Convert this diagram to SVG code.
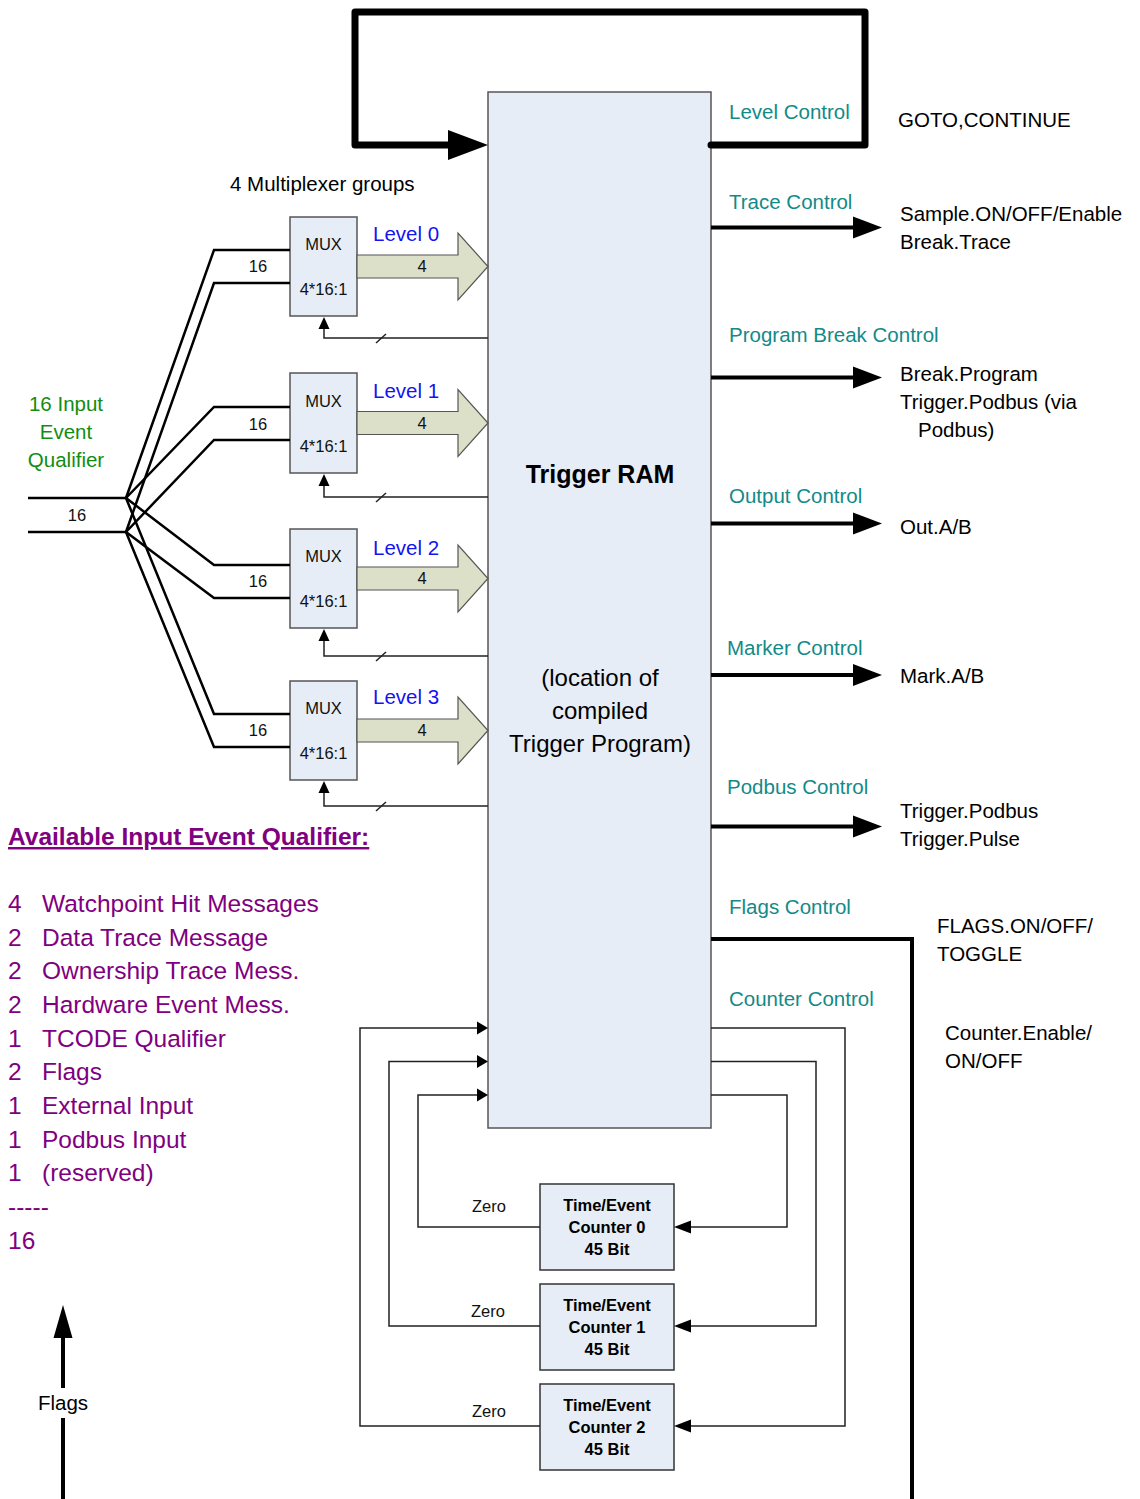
<svg xmlns="http://www.w3.org/2000/svg" width="1140" height="1499" viewBox="0 0 1140 1499">
<style>
text{font-family:"Liberation Sans",Arial,sans-serif;}
.box{fill:#e6edf7;stroke:#555;stroke-width:1.5;}
.cbox{fill:#e6edf7;stroke:#333;stroke-width:1.5;}
.thin{fill:none;stroke:#222;stroke-width:1.5;}
.wire{fill:none;stroke:#000;stroke-width:2.5;}
.thick{fill:none;stroke:#000;stroke-width:4;}
.loop{fill:none;stroke:#000;stroke-width:7;stroke-linejoin:round;stroke-linecap:round;}
.lvl{fill:#dde0c8;stroke:#555;stroke-width:1.2;}
.teal{fill:#128a88;font-size:20.5px;}
.blk{fill:#000;font-size:20.5px;}
.blue{fill:#1414f0;font-size:20.5px;}
.sm{fill:#111;font-size:16.5px;}
.cnt{fill:#000;font-size:16.5px;font-weight:bold;text-anchor:middle;}
.pur{fill:#800080;font-size:24.5px;}
.grn{fill:#128c12;font-size:20.5px;text-anchor:middle;}
.mid{text-anchor:middle;}
</style>
<defs>
<marker id="ah" markerWidth="8" markerHeight="8" refX="8" refY="4" orient="auto" markerUnits="userSpaceOnUse">
<path d="M0,0 L8,4 L0,8 Z" fill="#000"/>
</marker>
</defs>

<g id="trigger-ram">
<rect class="box" x="488" y="92" width="223" height="1036"/>
<text x="600" y="483" class="mid" style="font-size:25px;font-weight:bold">Trigger RAM</text>
<text x="600" y="686" class="mid" style="font-size:24px">(location of</text>
<text x="600" y="719" class="mid" style="font-size:24px">compiled</text>
<text x="600" y="752" class="mid" style="font-size:24px">Trigger Program)</text>
</g>

<g id="mux0">
<rect class="box" x="290" y="217" width="67" height="99"/>
<text x="323.5" y="250" class="sm mid">MUX</text>
<text x="323.5" y="295" class="sm mid">4*16:1</text>
</g>
<g id="mux1">
<rect class="box" x="290" y="373" width="67" height="100"/>
<text x="323.5" y="407" class="sm mid">MUX</text>
<text x="323.5" y="452" class="sm mid">4*16:1</text>
</g>
<g id="mux2">
<rect class="box" x="290" y="529" width="67" height="99"/>
<text x="323.5" y="562" class="sm mid">MUX</text>
<text x="323.5" y="607" class="sm mid">4*16:1</text>
</g>
<g id="mux3">
<rect class="box" x="290" y="681" width="67" height="99"/>
<text x="323.5" y="714" class="sm mid">MUX</text>
<text x="323.5" y="759" class="sm mid">4*16:1</text>
</g>

<g id="counter0">
<rect class="cbox" x="540" y="1184" width="134" height="86"/>
<text x="607" y="1211" class="cnt">Time/Event</text>
<text x="607" y="1233" class="cnt">Counter 0</text>
<text x="607" y="1255" class="cnt">45 Bit</text>
</g>
<g id="counter1">
<rect class="cbox" x="540" y="1284" width="134" height="86"/>
<text x="607" y="1311" class="cnt">Time/Event</text>
<text x="607" y="1333" class="cnt">Counter 1</text>
<text x="607" y="1355" class="cnt">45 Bit</text>
</g>
<g id="counter2">
<rect class="cbox" x="540" y="1384" width="134" height="86"/>
<text x="607" y="1411" class="cnt">Time/Event</text>
<text x="607" y="1433" class="cnt">Counter 2</text>
<text x="607" y="1455" class="cnt">45 Bit</text>
</g>

<g id="connectors">
<!-- top loop -->
<path class="loop" d="M711,145 L865,145 L865,12 L355,12 L355,145 L450,145"/>
<polygon points="448,130 488,145 448,160" fill="#000"/>

<!-- right control arrows -->
<line class="thick" x1="711" y1="227.5" x2="856" y2="227.5"/>
<polygon points="853,216.5 882,227.5 853,238.5" fill="#000"/>
<line class="thick" x1="711" y1="377.5" x2="856" y2="377.5"/>
<polygon points="853,366.5 882,377.5 853,388.5" fill="#000"/>
<line class="thick" x1="711" y1="523.5" x2="856" y2="523.5"/>
<polygon points="853,512.5 882,523.5 853,534.5" fill="#000"/>
<line class="thick" x1="711" y1="675" x2="856" y2="675"/>
<polygon points="853,664 882,675 853,686" fill="#000"/>
<line class="thick" x1="711" y1="826.5" x2="856" y2="826.5"/>
<polygon points="853,815.5 882,826.5 853,837.5" fill="#000"/>
<path class="thick" d="M711,939 L912,939 L912,1499"/>

<!-- input fan -->
<line class="wire" x1="28" y1="498" x2="126" y2="498"/>
<line class="wire" x1="28" y1="532" x2="126" y2="532"/>
<path class="wire" d="M126,498 L214,250 L290,250"/>
<path class="wire" d="M126,532 L214,283 L290,283"/>
<path class="wire" d="M126,498 L214,407 L290,407"/>
<path class="wire" d="M126,532 L214,440 L290,440"/>
<path class="wire" d="M126,498 L214,565 L290,565"/>
<path class="wire" d="M126,532 L214,598 L290,598"/>
<path class="wire" d="M126,498 L214,714 L290,714"/>
<path class="wire" d="M126,532 L214,747 L290,747"/>

<!-- level block arrows -->
<polygon class="lvl" points="357,255 458,255 458,233 488,266.5 458,300 458,278 357,278"/>
<polygon class="lvl" points="357,411.5 458,411.5 458,389.5 488,423 458,456.5 458,434.5 357,434.5"/>
<polygon class="lvl" points="357,567 458,567 458,545 488,578.5 458,612 458,590 357,590"/>
<polygon class="lvl" points="357,719 458,719 458,697 488,730.5 458,764 458,742 357,742"/>

<!-- feedback to MUX -->
<path class="thin" d="M488,338 L324,338 L324,329"/>
<polygon points="318.5,329 324,317 329.5,329" fill="#000"/>
<line class="thin" x1="376" y1="343" x2="386" y2="334"/>
<path class="thin" d="M488,497 L324,497 L324,486"/>
<polygon points="318.5,486 324,474 329.5,486" fill="#000"/>
<line class="thin" x1="376" y1="502" x2="386" y2="493"/>
<path class="thin" d="M488,656 L324,656 L324,641"/>
<polygon points="318.5,641 324,629 329.5,641" fill="#000"/>
<line class="thin" x1="376" y1="661" x2="386" y2="652"/>
<path class="thin" d="M488,806 L324,806 L324,793"/>
<polygon points="318.5,793 324,781 329.5,793" fill="#000"/>
<line class="thin" x1="376" y1="811" x2="386" y2="802"/>

<!-- counter control out -->
<path class="thin" d="M711,1028 L845,1028 L845,1426 L690,1426"/>
<polygon points="691,1419.5 674,1426 691,1432.5" fill="#000"/>
<path class="thin" d="M711,1061.5 L816,1061.5 L816,1326 L690,1326"/>
<polygon points="691,1319.5 674,1326 691,1332.5" fill="#000"/>
<path class="thin" d="M711,1095 L787,1095 L787,1227 L690,1227"/>
<polygon points="691,1220.5 674,1227 691,1233.5" fill="#000"/>

<!-- zero feedback -->
<path class="thin" d="M540,1426 L360,1426 L360,1028 L478,1028"/>
<polygon points="477,1021.5 488,1028 477,1034.5" fill="#000"/>
<path class="thin" d="M540,1326 L389,1326 L389,1061.5 L478,1061.5"/>
<polygon points="477,1055 488,1061.5 477,1068" fill="#000"/>
<path class="thin" d="M540,1227 L418,1227 L418,1095 L478,1095"/>
<polygon points="477,1088.5 488,1095 477,1101.5" fill="#000"/>

<!-- flags arrow -->
<line class="thick" x1="63" y1="1499" x2="63" y2="1418"/>
<line class="thick" x1="63" y1="1388" x2="63" y2="1335"/>
<polygon points="53.5,1338 63,1305 72.5,1338" fill="#000"/>
</g>

<g id="labels">
<text x="230" y="191" class="blk">4 Multiplexer groups</text>
<text x="373" y="241" class="blue">Level 0</text>
<text x="373" y="398" class="blue">Level 1</text>
<text x="373" y="555" class="blue">Level 2</text>
<text x="373" y="704" class="blue">Level 3</text>
<text x="258" y="272" class="sm mid">16</text>
<text x="258" y="430" class="sm mid">16</text>
<text x="258" y="587" class="sm mid">16</text>
<text x="258" y="736" class="sm mid">16</text>
<text x="422" y="272" class="sm mid">4</text>
<text x="422" y="429" class="sm mid">4</text>
<text x="422" y="584" class="sm mid">4</text>
<text x="422" y="736" class="sm mid">4</text>
<text x="77" y="521" class="sm mid">16</text>
<text x="66" y="411" class="grn">16 Input</text>
<text x="66" y="439" class="grn">Event</text>
<text x="66" y="467" class="grn">Qualifier</text>

<text x="729" y="119" class="teal">Level Control</text>
<text x="898" y="127" class="blk">GOTO,CONTINUE</text>
<text x="729" y="209" class="teal">Trace Control</text>
<text x="900" y="221" class="blk">Sample.ON/OFF/Enable</text>
<text x="900" y="249" class="blk">Break.Trace</text>
<text x="729" y="342" class="teal">Program Break Control</text>
<text x="900" y="381" class="blk">Break.Program</text>
<text x="900" y="409" class="blk">Trigger.Podbus (via</text>
<text x="918" y="437" class="blk">Podbus)</text>
<text x="729" y="503" class="teal">Output Control</text>
<text x="900" y="534" class="blk">Out.A/B</text>
<text x="727" y="655" class="teal">Marker Control</text>
<text x="900" y="683" class="blk">Mark.A/B</text>
<text x="727" y="794" class="teal">Podbus Control</text>
<text x="900" y="818" class="blk">Trigger.Podbus</text>
<text x="900" y="846" class="blk">Trigger.Pulse</text>
<text x="729" y="914" class="teal">Flags Control</text>
<text x="937" y="933" class="blk">FLAGS.ON/OFF/</text>
<text x="937" y="961" class="blk">TOGGLE</text>
<text x="729" y="1006" class="teal">Counter Control</text>
<text x="945" y="1040" class="blk">Counter.Enable/</text>
<text x="945" y="1068" class="blk">ON/OFF</text>

<text x="489" y="1212" class="sm mid">Zero</text>
<text x="488" y="1317" class="sm mid">Zero</text>
<text x="489" y="1417" class="sm mid">Zero</text>

<text x="63" y="1410" class="blk mid">Flags</text>

<text x="8" y="845" class="pur" style="font-weight:bold;text-decoration:underline">Available Input Event Qualifier:</text>
<text x="8" y="912" class="pur">4</text><text x="42" y="912" class="pur">Watchpoint Hit Messages</text>
<text x="8" y="946" class="pur">2</text><text x="42" y="946" class="pur">Data Trace Message</text>
<text x="8" y="979" class="pur">2</text><text x="42" y="979" class="pur">Ownership Trace Mess.</text>
<text x="8" y="1013" class="pur">2</text><text x="42" y="1013" class="pur">Hardware Event Mess.</text>
<text x="8" y="1047" class="pur">1</text><text x="42" y="1047" class="pur">TCODE Qualifier</text>
<text x="8" y="1080" class="pur">2</text><text x="42" y="1080" class="pur">Flags</text>
<text x="8" y="1114" class="pur">1</text><text x="42" y="1114" class="pur">External Input</text>
<text x="8" y="1148" class="pur">1</text><text x="42" y="1148" class="pur">Podbus Input</text>
<text x="8" y="1181" class="pur">1</text><text x="42" y="1181" class="pur">(reserved)</text>
<text x="8" y="1215" class="pur">-----</text>
<text x="8" y="1249" class="pur">16</text>
</g>
</svg>
